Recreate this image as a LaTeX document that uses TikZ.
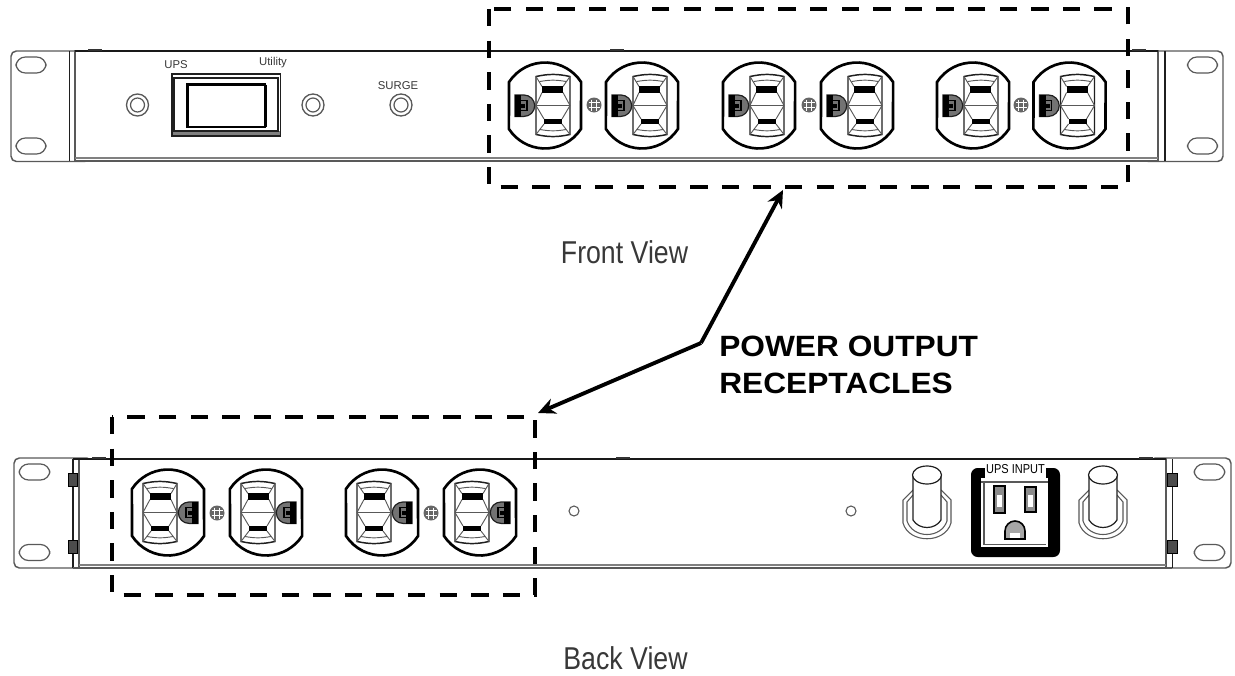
\documentclass[tikz,border=0pt]{standalone}
\usepackage{fontspec}
\setmainfont{Liberation Sans}
\usetikzlibrary{arrows.meta}
\definecolor{lineK}{gray}{0.12}
\definecolor{lineG}{gray}{0.35}
\definecolor{bandG}{gray}{0.5}
\definecolor{lblG}{gray}{0.22}
\tikzset{
  panel/.style={draw=lineG,line width=1.1pt,fill=white},
  topedge/.style={draw=black!90,line width=1.9pt},
  thin part/.style={draw=lineK,line width=0.6pt},
  dashbox/.style={draw=black,line width=3.7pt,dash pattern=on 13pt off 10.7pt},
  callout/.style={draw=black,line width=2.9pt,-{Stealth[length=13pt,width=12pt]}},
  small lbl/.style={text=lblG,font=\fontsize{8.5}{10}\selectfont,inner sep=0pt},
  view lbl/.style={text=lblG,font=\fontsize{23.7}{26}\selectfont,inner sep=0pt,xscale=0.845},
  call lbl/.style={text=black,font=\bfseries\fontsize{22}{28}\selectfont,inner sep=0pt,align=left,anchor=north west,xscale=1.08},
  earslot/.style={draw=lineG,line width=0.9pt,rounded corners=7pt,fill=white},
  ledring/.style={draw=lineG,line width=1pt,fill=white},
  outlet/.pic={
    \draw[black,line width=2pt,fill=white]
      (36,23.4) arc[start angle=33,end angle=147,radius=43]
      -- (-36,-23.4) arc[start angle=213,end angle=327,radius=43] -- cycle;
    \draw[lineK,line width=1.1pt] (-9,-29) to[bend left=12] (25,-29) -- (25,29) to[bend left=12] (-9,29) -- cycle;
    \draw[lineG,line width=0.7pt] (-9,-29) -- (-3,-19) (25,-29) -- (18,-19) (-3,-13) -- (-9,0) (18,-13) -- (25,0)
      (-9,29) -- (-1,18.5) (25,29) -- (17,18.5) (-1,13.5) -- (-9,0) (17,13.5) -- (25,0)
      (-5,-24) to[bend left=10] (21,-24) (-5,24) to[bend right=10] (21,24);
    \draw[lineG,line width=1pt] (-9,0) -- (25,0);
    \fill[black] (-3,-19.5) rectangle (18,-13);
    \fill[black] (-1,13.5) rectangle (17,18.5);
    \draw[lineK,line width=0.9pt,fill=black!55] (-30,-10.5) -- (-21,-10.5) arc[start angle=-90,end angle=90,radius=10.7] -- (-30,11) -- cycle;
    \fill[black] (-30,-10.5) rectangle (-24,11);
    \draw[black,line width=1pt] (-25,-5) rectangle (-18,5);
    \fill[black] (-24,-2) rectangle (-20,2);
  },
  groundscrew/.pic={
    \fill[black!60] (0,0) circle[radius=7.5];
    \draw[white,line width=0.5pt] (-5.5,-2.2) -- (5.5,-2.2) (-5.5,2.2) -- (5.5,2.2) (-2.2,-5.5) -- (-2.2,5.5) (2.2,-5.5) -- (2.2,5.5);
  },
  knob/.pic={
    \draw[lineG,line width=0.8pt,fill=white] (-14,-4) -- (-24,6) -- (-24,29) .. controls (-18,50) and (18,50) .. (24,29) -- (24,6) -- (14,-4);
    \draw[lineG,line width=0.8pt] (-14,1) -- (-20,8) -- (-20,27) .. controls (-14,45) and (14,45) .. (20,27) -- (20,8) -- (14,1);
    \draw[lineK,line width=0.9pt,fill=white] (-14,-19) -- (-14,26) .. controls (-8,36) and (8,36) .. (14,26) -- (14,-19);
    \draw[lineK,line width=0.9pt,fill=white] (0,-19) ellipse[x radius=14.5,y radius=9];
  }
}
\begin{document}
\begin{tikzpicture}[x=0.75pt,y=-0.75pt]
\useasboundingbox (0,0) rectangle (1235,675);
% ---------- front chassis ----------
\draw[panel,rounded corners=4pt] (11,51) rectangle (90,161.5);
\draw[panel,rounded corners=4pt] (1143,51) rectangle (1223,161.5);
\draw[panel] (75,51) rectangle (1158,161);
\draw[thin part,line width=1pt] (69.5,51) -- (69.5,161) (1165,51) -- (1165,161);
\draw[topedge] (75,51) -- (1158,51);
\draw[bandG,line width=1.5pt] (75,157.5) -- (1158,157.5);
\draw[lineG,line width=1.2pt] (75,161) -- (1158,161);
\foreach \bx in {88,610,1132} \fill[black!80] (\bx,48.5) rectangle +(14,2);
\node[earslot,minimum width=22.5pt,minimum height=12pt] (fs1) at (31,65) {};
\node[earslot,minimum width=22.5pt,minimum height=12pt] (fs2) at (31,146) {};
\node[earslot,minimum width=22.5pt,minimum height=12pt] (fs3) at (1202.5,65) {};
\node[earslot,minimum width=22.5pt,minimum height=12pt] (fs4) at (1202.5,146) {};
% switch
\fill[black!50] (172,131) rectangle (280.5,136);
\draw[lineK,line width=1.2pt] (172,74) rectangle (280.5,136);
\draw[lineK,line width=0.8pt,fill=white] (174,78) rectangle (278,131);
\draw[black,line width=1.9pt,fill=white] (187.5,84.5) rectangle (265,127);
\draw[black,line width=1.2pt] (266,84.5) -- (266,127);
\foreach \lx in {137.5,313,401} {
  \draw[ledring] (\lx,105) circle[radius=11];
  \draw[ledring,line width=.9pt] (\lx,105) circle[radius=7];
}
\node[small lbl] (lupS) at (176,65) {UPS};
\node[small lbl] (lutil) at (273,63) {Utility};
\node[small lbl] (lsurge) at (398,85.5) {SURGE};
\foreach \ox in {545,642,759,857,973,1069.5}
  \pic at (\ox,105.5) {outlet};
\foreach \sx in {594,809,1021}
  \pic at (\sx,105) {groundscrew};
% ---------- back chassis ----------
\draw[panel,rounded corners=4pt] (14,458) rectangle (92,568);
\draw[panel,rounded corners=4pt] (1150,458) rectangle (1231,568);
\draw[panel] (79,459) rectangle (1166,568);
\draw[thin part,line width=1.2pt] (73,459) -- (73,568) (1172.5,459) -- (1172.5,568);
\draw[topedge] (73,459) -- (1166,459);
\draw[bandG,line width=1.5pt] (79,564.5) -- (1166,564.5);
\draw[lineG,line width=1.2pt] (73,568) -- (1172,568);
\foreach \bx in {92,616,1139} \fill[black!80] (\bx,456.5) rectangle +(14,2);
\foreach \ty in {473,540} {
  \draw[black,fill=black!70] (68.5,\ty) rectangle +(9,13);
  \draw[black,fill=black!70] (1167,\ty) rectangle +(10.5,13);
}
\node[earslot,minimum width=23pt,minimum height=12pt] (bs1) at (34.5,472) {};
\node[earslot,minimum width=23pt,minimum height=12pt] (bs2) at (34.5,552.5) {};
\node[earslot,minimum width=23pt,minimum height=12pt] (bs3) at (1209.5,472) {};
\node[earslot,minimum width=23pt,minimum height=12pt] (bs4) at (1209.5,552.5) {};
\foreach \ox in {168,266,382,480}
  \pic[xscale=-1] at (\ox,512.5) {outlet};
\foreach \sx in {217,431}
  \pic at (\sx,513) {groundscrew};
\foreach \hx in {574,851}
  \draw[lineG,line width=.8pt,fill=white] (\hx,511) circle[radius=5];
\pic at (927,494) {knob};
\pic at (1103,494) {knob};
% UPS input
\fill[black,rounded corners=5pt] (971,468) rectangle (1060,557);
\fill[white] (981,478) rectangle (1048,547);
\fill[white] (985,462) rectangle (1046,479);
\draw[lineG,line width=1pt] (981,482) -- (1048,482) (984,544.5) -- (1046,544.5) (984,482) -- (984,545);
\node[small lbl,font=\fontsize{9.7}{10}\selectfont,xscale=.85,text=black] (lups) at (1015.5,469) {UPS INPUT};
\draw[black,line width=1pt,fill=black!45] (994,486) rectangle (1005,513);
\fill[white] (997,495) rectangle (1002,507);
\draw[black,line width=1pt,fill=black!45] (1025,487) rectangle (1036,512);
\fill[white] (1028,495) rectangle (1033,507);
\draw[black,line width=1.2pt,fill=black!35] (1005,539) -- (1005,531) arc[start angle=180,end angle=360,radius=10] -- (1025,539) -- cycle;
\fill[white] (1010,538) rectangle (1020,533);
% ---------- dashed boxes ----------
\draw[dashbox] (489,9) rectangle (1128,187);
\draw[dashbox] (112,417) rectangle (535,595);
\coordinate (ftarget) at (783,190);
\coordinate (btarget) at (538,413);
\coordinate (bend) at (701,343);
\draw[callout] (bend) -- (ftarget);
\draw[callout] (bend) -- (btarget);
\node[view lbl] (fv) at (624.5,252.5) {Front View};
\node[view lbl] (bv) at (625.5,658.5) {Back View};
\node[call lbl] (cl) at (719,335.5) {POWER OUTPUT\\RECEPTACLES};
\end{tikzpicture}
\end{document}
